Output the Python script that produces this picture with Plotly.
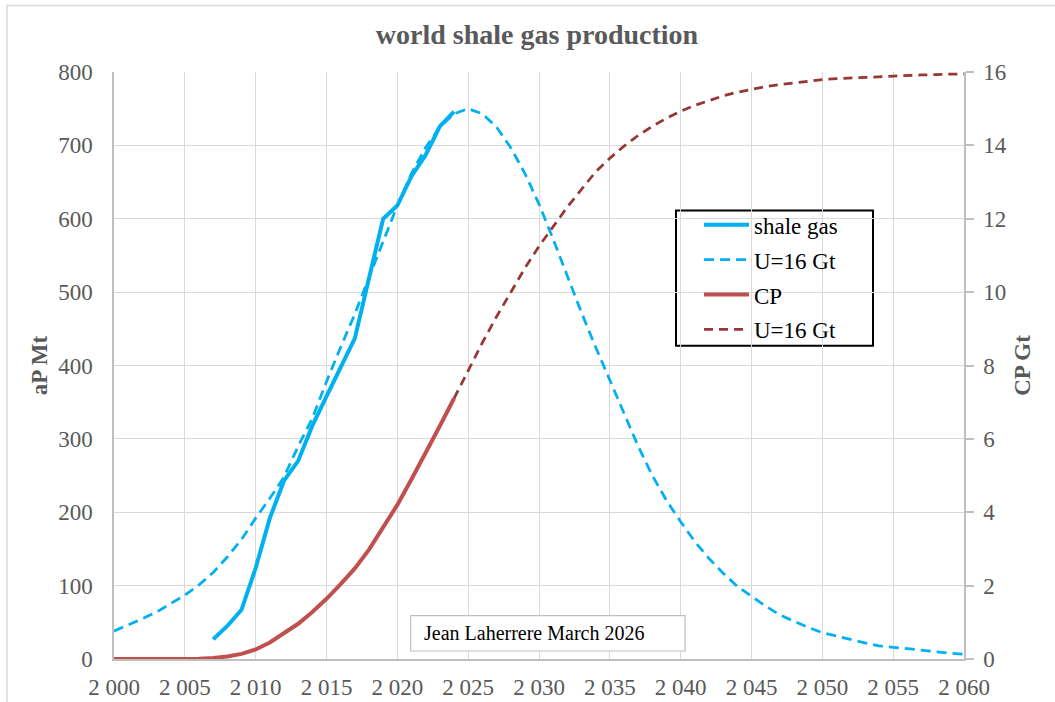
import plotly.graph_objects as go

# ---- data ----
years_hist = [2007, 2008, 2009, 2010, 2011, 2012, 2013, 2014, 2015, 2016, 2017, 2018,
              2019, 2020, 2021, 2022, 2023, 2024]
shale_gas = [27, 45, 67, 124, 192, 243, 270, 318, 358, 397, 437, 519,
             600, 618, 658, 687, 726, 746]

years_model = list(range(2000, 2061))
shale_model = [38, 46, 55, 64, 75, 87, 101, 118, 139, 163,
               192, 219, 248, 290, 328, 378, 425, 470, 520, 570,
               618, 662, 697, 725, 743, 750, 743, 725, 697, 662,
               620, 572, 522, 472, 425, 380, 333, 290, 250, 216,
               187, 160, 137, 117, 99, 85, 72, 60, 51, 43,
               36, 31, 26, 22, 18, 16, 13, 11, 9, 8, 6.5]

years_cp = list(range(2000, 2025))
cp = [0, 0, 0, 0, 0, 0, 0.01, 0.03, 0.07, 0.14,
      0.26, 0.45, 0.69, 0.96, 1.28, 1.64, 2.04, 2.47, 2.98, 3.58,
      4.2, 4.9, 5.6, 6.35, 7.1]

years_cp_model = list(range(2024, 2061))
cp_model = [7.1, 7.88, 8.62, 9.33, 9.98, 10.65, 11.25, 11.8, 12.32, 12.8,
            13.28, 13.65, 13.98, 14.27, 14.52, 14.74, 14.93, 15.09, 15.23, 15.35,
            15.45, 15.53, 15.6, 15.66, 15.71, 15.75, 15.79, 15.82, 15.84, 15.86,
            15.88, 15.9, 15.91, 15.92, 15.93, 15.94, 15.95]

x_tick_vals = [2000, 2005, 2010, 2015, 2020, 2025, 2030, 2035, 2040, 2045, 2050, 2055, 2060]
x_tick_text = ["2 000", "2 005", "2 010", "2 015", "2 020", "2 025", "2 030",
               "2 035", "2 040", "2 045", "2 050", "2 055", "2 060"]
y_left_ticks = [0, 100, 200, 300, 400, 500, 600, 700, 800]
y_right_ticks = [0, 2, 4, 6, 8, 10, 12, 14, 16]

# ---- styles ----
BLUE = "#00B0F0"
RED = "#C0504D"
DRED = "#953735"
GREY = "#595959"
FONT = "Liberation Serif, Times New Roman, serif"

fig = go.Figure()
fig.add_trace(go.Scatter(x=years_hist, y=shale_gas, name="shale gas", mode="lines",
                         line=dict(color=BLUE, width=4), legendgroup="a"))
fig.add_trace(go.Scatter(x=years_model, y=shale_model, name="U=16 Gt", mode="lines",
                         line=dict(color=BLUE, width=2.75, dash="10px,6px"), legendgroup="b"))
fig.add_trace(go.Scatter(x=years_cp, y=cp, name="CP", mode="lines", yaxis="y2",
                         line=dict(color=RED, width=4), legendgroup="c"))
fig.add_trace(go.Scatter(x=years_cp_model, y=cp_model, name="U=16 Gt", mode="lines", yaxis="y2",
                         line=dict(color=DRED, width=2.75, dash="9px,6px"), legendgroup="d"))

fig.update_layout(
    width=1055, height=702,
    margin=dict(l=114, r=91, t=72, b=43, autoexpand=False),
    paper_bgcolor="white", plot_bgcolor="white",
    font=dict(family=FONT, size=23, color=GREY),
    title=dict(text="<b>world shale gas production</b>", x=(537) / 1055, xanchor="center",
               y=1 - 34 / 702, yanchor="middle", font=dict(family=FONT, size=28, color=GREY)),
    showlegend=True,
    legend=dict(x=(699 - 114) / 850, y=(659 - 203.7) / 586.5, xanchor="left", yanchor="top",
                bgcolor="rgba(0,0,0,0)", borderwidth=0,
                font=dict(family=FONT, size=23, color="black"),
                tracegroupgap=2, itemwidth=45),
    xaxis=dict(range=[2000, 2060], tickvals=x_tick_vals, ticktext=x_tick_text,
               showgrid=True, gridcolor="#d9d9d9", gridwidth=1,
               showline=True, linecolor="#bfbfbf", linewidth=1.5,
               ticks="", ticklabelstandoff=7, zeroline=False,
               tickfont=dict(family=FONT, size=23, color=GREY)),
    yaxis=dict(range=[0, 800], tickvals=y_left_ticks,
               showgrid=True, gridcolor="#d9d9d9", gridwidth=1,
               showline=True, linecolor="#bfbfbf", linewidth=1.5,
               ticks="", ticklabelstandoff=15, zeroline=False,
               tickfont=dict(family=FONT, size=23, color=GREY),
               title=dict(text="<b>aP Mt</b>", standoff=4,
                          font=dict(family=FONT, size=23, color=GREY))),
    yaxis2=dict(range=[0, 16], tickvals=y_right_ticks, overlaying="y", side="right",
                showgrid=False, showline=True, linecolor="#bfbfbf", linewidth=1.5,
                ticks="outside", ticklen=8, tickcolor="#bfbfbf", tickwidth=1.5,
                ticklabelstandoff=5, zeroline=False,
                tickfont=dict(family=FONT, size=23, color=GREY),
                title=dict(text="<b>CP Gt</b>", standoff=8,
                           font=dict(family=FONT, size=23, color=GREY))),
    shapes=[
        dict(type="rect", xref="paper", yref="paper",
             x0=(7 - 114) / 850, x1=1.3, y0=-0.2, y1=(659 - 6) / 586.5,
             line=dict(color="#d9d9d9", width=1.5), fillcolor="rgba(0,0,0,0)", layer="below"),
        dict(type="rect", xref="paper", yref="paper",
             x0=(410.7 - 114) / 850, x1=(685 - 114) / 850,
             y0=(659 - 651) / 586.5, y1=(659 - 615.7) / 586.5,
             line=dict(color="#bfbfbf", width=1.2), fillcolor="white", layer="above"),
        dict(type="rect", xref="paper", yref="paper",
             x0=(676 - 114) / 850, x1=(873 - 114) / 850,
             y0=(659 - 346) / 586.5, y1=(659 - 211) / 586.5,
             line=dict(color="black", width=2), fillcolor="white", layer="below"),
    ],
    annotations=[
        dict(text="Jean Laherrere March 2026", xref="paper", yref="paper",
             x=(422.3 - 114) / 850, y=(659 - 633.4) / 586.5, xanchor="left", yanchor="middle",
             showarrow=False, font=dict(family=FONT, size=20, color="black")),
    ],
)

fig.write_html("out.html")
